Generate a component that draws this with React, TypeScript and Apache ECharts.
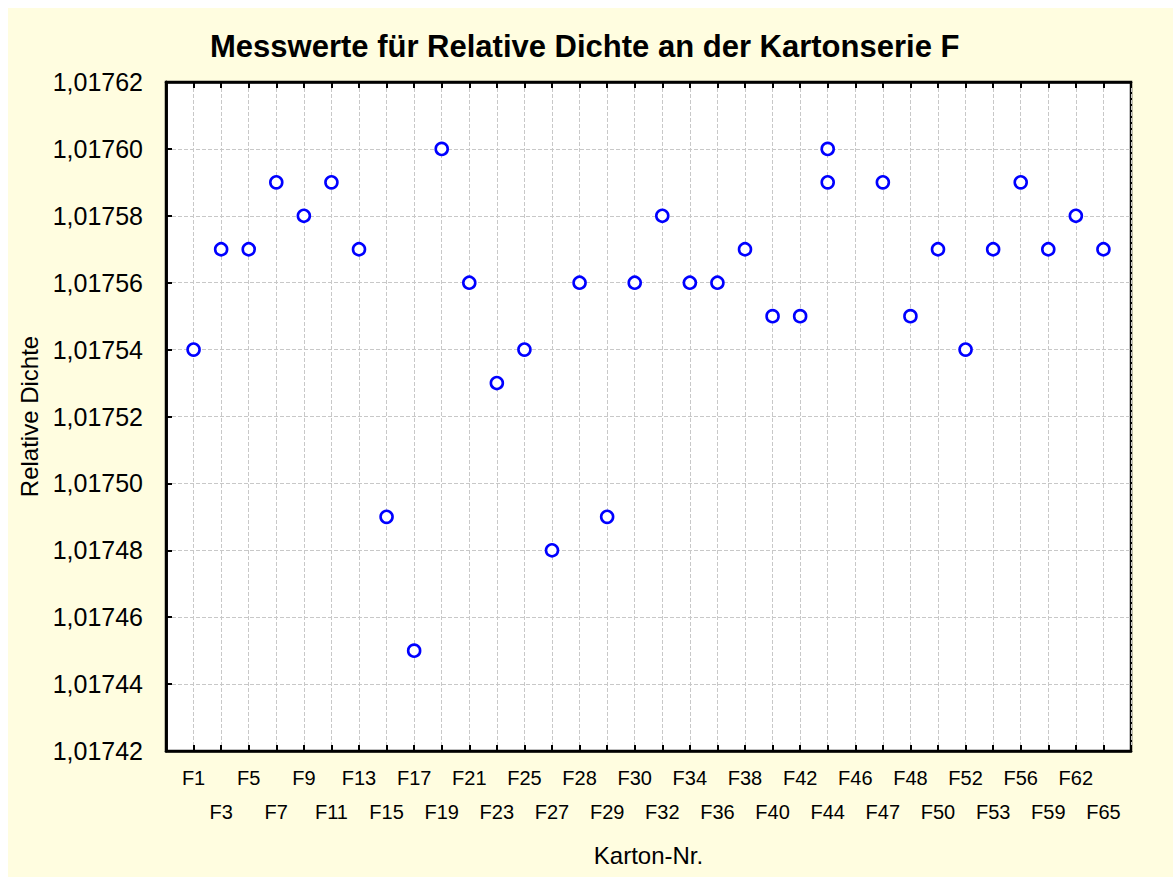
import React, { useEffect, useRef } from 'react';
import * as echarts from 'echarts';

// Karton-Nr. (x-axis categories, in order)
const cartons = [
  'F1', 'F3', 'F5', 'F7', 'F9', 'F11', 'F13', 'F15', 'F17', 'F19', 'F21', 'F23',
  'F25', 'F27', 'F28', 'F29', 'F30', 'F32', 'F34', 'F36', 'F38', 'F40', 'F42',
  'F44', 'F46', 'F47', 'F48', 'F50', 'F52', 'F53', 'F56', 'F59', 'F62', 'F65',
];

// Measurements: carton name and relative density (F44 shows two values, F46 none)
const measuredCartons = [
  'F1', 'F3', 'F5', 'F7', 'F9', 'F11', 'F13', 'F15', 'F17', 'F19', 'F21', 'F23',
  'F25', 'F27', 'F28', 'F29', 'F30', 'F32', 'F34', 'F36', 'F38', 'F40', 'F42',
  'F44', 'F44', 'F47', 'F48', 'F50', 'F52', 'F53', 'F56', 'F59', 'F62', 'F65',
];
const measuredDensity = [
  1.01754, 1.01757, 1.01757, 1.01759, 1.01758, 1.01759, 1.01757, 1.01749, 1.01745,
  1.0176, 1.01756, 1.01753, 1.01754, 1.01748, 1.01756, 1.01749, 1.01756, 1.01758,
  1.01756, 1.01756, 1.01757, 1.01755, 1.01755, 1.0176, 1.01759, 1.01759, 1.01755,
  1.01757, 1.01754, 1.01757, 1.01759, 1.01757, 1.01758, 1.01757,
];

const yMin = 1.01742;
const yMax = 1.01762;
const yStep = 0.00002;

const FONT = '"Liberation Sans", Arial, sans-serif';

export default function App() {
  const ref = useRef<HTMLDivElement>(null);

  useEffect(() => {
    if (!ref.current) return;
    const chart = echarts.init(ref.current, undefined, { renderer: 'svg' });

    const data = measuredCartons.map((c, i) => [cartons.indexOf(c) + 1, measuredDensity[i]]);
    const xMax = cartons.length + 1;

    const blackLine = { show: true, lineStyle: { color: '#000', width: 2.5 } };
    const ticksInside = { show: true, inside: true, length: 6, lineStyle: { color: '#000', width: 2 } };

    chart.setOption({
      animation: false,
      backgroundColor: '#fffde0',
      textStyle: { fontFamily: FONT },
      title: {
        text: 'Messwerte für Relative Dichte an der Kartonserie F',
        left: 197,
        top: 18,
        textStyle: { fontFamily: FONT, fontSize: 31, fontWeight: 'bold', color: '#000' },
      },
      grid: {
        left: 158,
        top: 74,
        right: 42,
        bottom: 126,
        show: true,
        backgroundColor: '#fff',
        borderColor: '#000',
        borderWidth: 2.5,
      },
      xAxis: [
        {
          type: 'value',
          position: 'bottom',
          min: 0,
          max: xMax,
          interval: 1,
          name: 'Karton-Nr.',
          nameLocation: 'middle',
          nameGap: 92,
          nameTextStyle: { fontFamily: FONT, fontSize: 24, color: '#000' },
          axisLine: blackLine,
          axisTick: ticksInside,
          axisLabel: {
            fontFamily: FONT,
            fontSize: 20,
            color: '#000',
            lineHeight: 34,
            margin: 10,
            formatter: (v: number) => {
              const i = Math.round(v) - 1;
              if (i < 0 || i >= cartons.length) return '';
              return i % 2 === 0 ? cartons[i] : '\n' + cartons[i];
            },
          },
          splitLine: { show: true, lineStyle: { color: '#c8c8c8', type: 'dashed', width: 1 } },
        },
        {
          type: 'value',
          position: 'top',
          min: 0,
          max: xMax,
          interval: 1,
          axisLine: blackLine,
          axisTick: ticksInside,
          axisLabel: { show: false },
          splitLine: { show: false },
        },
      ],
      yAxis: [
        {
          type: 'value',
          position: 'left',
          min: yMin,
          max: yMax,
          interval: yStep,
          name: 'Relative Dichte',
          nameLocation: 'middle',
          nameGap: 112,
          nameTextStyle: { fontFamily: FONT, fontSize: 24, color: '#000' },
          axisLine: blackLine,
          axisTick: ticksInside,
          axisLabel: {
            fontFamily: FONT,
            fontSize: 25,
            color: '#000',
            margin: 23,
            formatter: (v: number) => v.toFixed(5).replace('.', ','),
          },
          splitLine: { show: true, lineStyle: { color: '#c8c8c8', type: 'dashed', width: 1 } },
        },
        {
          type: 'value',
          position: 'right',
          min: yMin,
          max: yMax,
          interval: yStep,
          axisLine: blackLine,
          axisTick: { show: false },
          axisLabel: { show: false },
          splitLine: { show: false },
        },
      ],
      series: [
        {
          type: 'scatter',
          xAxisIndex: 0,
          yAxisIndex: 0,
          data,
          symbol: 'circle',
          symbolSize: 12,
          itemStyle: { color: '#fff', borderColor: '#0000ff', borderWidth: 2.6, opacity: 1 },
          z: 5,
        },
      ],
    });

    return () => chart.dispose();
  }, []);

  return (
    <div
      ref={ref}
      style={{ position: 'absolute', left: 8, top: 8, right: 0, bottom: 0, background: '#fffde0' }}
    />
  );
}
